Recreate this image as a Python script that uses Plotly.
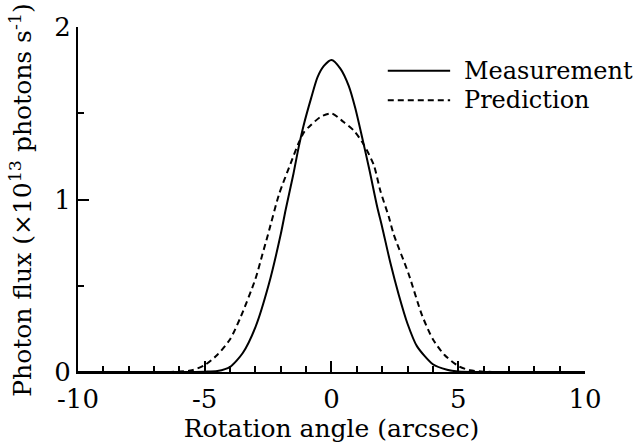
import plotly.graph_objects as go

# Rotation angle (arcsec)
meas_x = [-10, -6, -5, -4.5, -4, -3.5, -3, -2.47, -2, -1.81, -1.5, -1.3, -1.1, -0.8, -0.55, -0.3, 0,
          0.35, 0.68, 0.94, 1.21, 1.5, 1.8, 2.0, 2.32, 2.65, 3.0, 3.37, 4.0, 4.56, 5.0, 6, 10]
# Photon flux (x10^13 photons/s)
meas_y = [0, 0, 0.002, 0.006, 0.03, 0.11, 0.26, 0.51, 0.80, 0.94, 1.15, 1.30, 1.43, 1.59, 1.71, 1.775, 1.81,
          1.76, 1.66, 1.53, 1.36, 1.17, 0.96, 0.84, 0.635, 0.45, 0.28, 0.15, 0.045, 0.013, 0.003, 0, 0]

pred_x = [-10, -6.5, -6, -5.5, -5, -4.5, -4, -3.58, -3, -2.73, -2.5, -2.07, -1.61, -1.29, -1.09, -0.83, -0.43, 0,
          0.48, 0.88, 1.27, 1.67, 1.93, 2.26, 2.45, 3.04, 3.57, 4.0, 4.45, 5.0, 5.46, 6.0, 6.5, 10]
pred_y = [0, 0, 0.003, 0.01, 0.04, 0.10, 0.19, 0.32, 0.54, 0.68, 0.80, 1.03, 1.21, 1.33, 1.39, 1.43, 1.48, 1.50,
          1.45, 1.40, 1.32, 1.20, 1.05, 0.90, 0.80, 0.57, 0.33, 0.19, 0.10, 0.035, 0.01, 0.002, 0, 0]

x_ticks = [-10, -5, 0, 5, 10]
y_ticks = [0, 1, 2]
series_names = ["Measurement", "Prediction"]
x_title = "Rotation angle (arcsec)"
y_title = "Photon flux (×10<sup>13</sup> photons s<sup>-1</sup>)"

FONT = "DejaVu Serif"
FS = 25
DASH = "6px,4px"

fig = go.Figure()
fig.add_trace(go.Scatter(x=meas_x, y=meas_y, mode="lines", name=series_names[0],
                         line=dict(color="black", width=2, shape="spline", smoothing=0.7),
                         showlegend=False))
fig.add_trace(go.Scatter(x=pred_x, y=pred_y, mode="lines", name=series_names[1],
                         line=dict(color="black", width=2, dash=DASH, shape="spline", smoothing=0.7),
                         showlegend=False))

# custom legend (paper coordinates)
legend_rows = [(0.873, "solid"), (0.788, DASH)]
for (yy, dash), name in zip(legend_rows, series_names):
    fig.add_shape(type="line", xref="paper", yref="paper", x0=0.611, x1=0.734, y0=yy, y1=yy,
                  line=dict(color="black", width=2, dash=dash))
    fig.add_annotation(xref="paper", yref="paper", x=0.757, y=yy, text=name, showarrow=False,
                       xanchor="left", yanchor="middle", font=dict(family=FONT, size=24, color="black"))

# y-axis title as rotated annotation
fig.add_annotation(xref="paper", yref="paper", x=-0.112, y=0.497, text=y_title, showarrow=False,
                   textangle=-90, xanchor="center", yanchor="middle",
                   font=dict(family=FONT, size=FS, color="black"))

fig.update_layout(
    width=640, height=446,
    margin=dict(l=78, r=55, t=12, b=72),
    paper_bgcolor="white", plot_bgcolor="white",
    font=dict(family=FONT, size=FS, color="black"),
    showlegend=False,
)
fig.update_xaxes(
    range=[-10, 10.001], tickvals=x_ticks, ticktext=[str(v) for v in x_ticks],
    showline=True, linecolor="black", linewidth=2, showgrid=False, zeroline=False,
    ticks="inside", ticklen=11, tickwidth=1.5, tickcolor="black",
    minor=dict(dtick=1, ticks="inside", ticklen=6, tickwidth=1.5, tickcolor="black", showgrid=False),
    title=dict(text=x_title, standoff=2, font=dict(size=FS)),
    tickfont=dict(size=26), ticklabeloverflow="allow", ticklabelstandoff=3,
)
fig.update_yaxes(
    range=[0, 2.001], tickvals=y_ticks, ticktext=[str(v) for v in y_ticks],
    showline=True, linecolor="black", linewidth=2, showgrid=False, zeroline=False,
    ticks="inside", ticklen=11, tickwidth=1.5, tickcolor="black",
    minor=dict(dtick=0.5, ticks="inside", ticklen=6, tickwidth=1.5, tickcolor="black", showgrid=False),
    tickfont=dict(size=26), ticklabeloverflow="allow",
)

fig.write_html("out.html")
